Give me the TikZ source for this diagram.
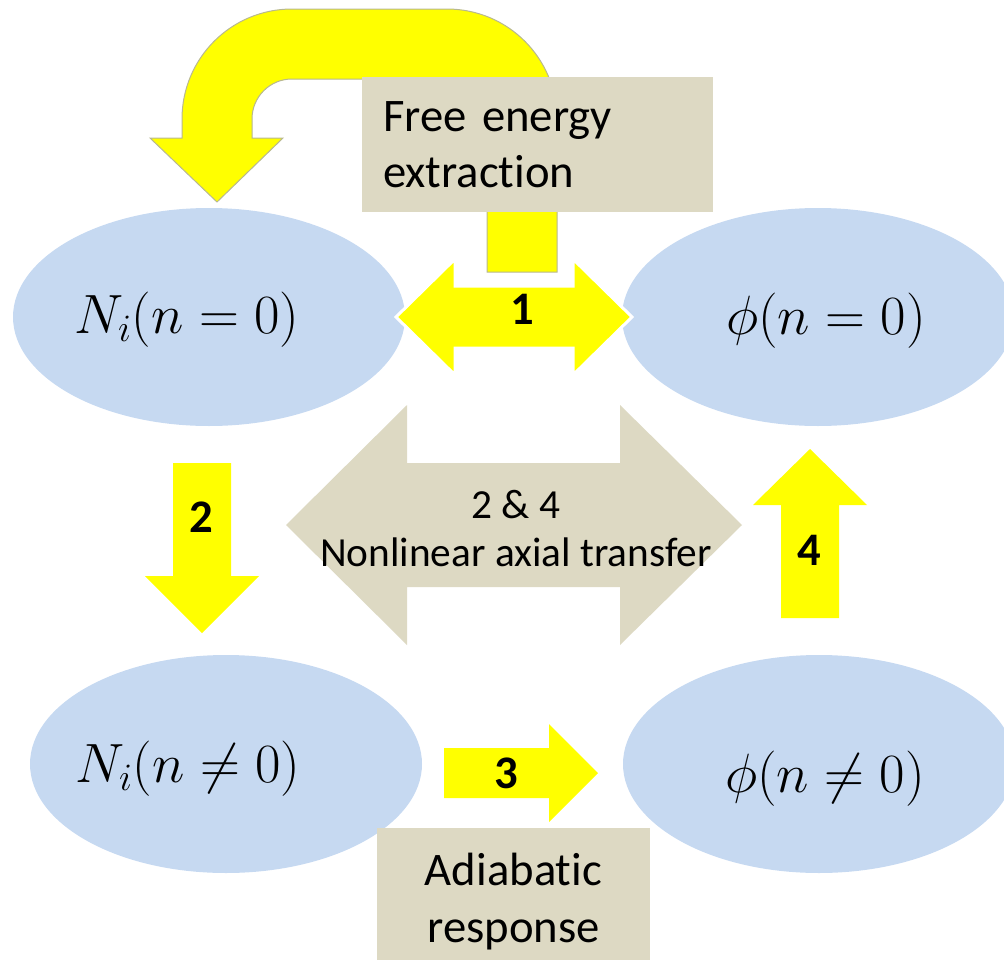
\RequirePackage{fix-cm}
\documentclass[tikz,border=0pt]{standalone}
\usepackage{fontspec}
\newfontfamily\calfont[Ligatures=NoCommon]{Carlito}
\usetikzlibrary{shapes.geometric}
\definecolor{ellblue}{HTML}{C6D9F1}
\definecolor{tanfill}{HTML}{DDD9C3}
\definecolor{arrowyellow}{HTML}{FFFF00}
\definecolor{uturnedge}{HTML}{B8B890}
\begin{document}
\begin{tikzpicture}[x=0.75pt,y=-0.75pt,
  ellnode/.style={ellipse, fill=ellblue, draw=none, inner sep=0pt, minimum width=294pt, minimum height=163.5pt},
  mathlbl/.style={inner sep=0pt, anchor=base, font=\fontsize{41.5}{50}\selectfont},
  tanbox/.style={rectangle, fill=tanfill, draw=none, inner sep=0pt},
  ylw/.style={fill=arrowyellow, draw=none},
  numlbl/.style={inner sep=0pt, anchor=base, font=\calfont\bfseries\fontsize{35}{42}\selectfont},
  boxtext/.style={inner sep=0pt, font=\calfont\fontsize{35}{43}\selectfont}]

\useasboundingbox (0,0) rectangle (1004,960);

% ellipses
\node[ellnode] (e1) at (209,317) {};
\node[ellnode] (e2) at (818,317) {};
\node[ellnode] (e3) at (226,764) {};
\node[ellnode] (e4) at (819,764) {};

\node[mathlbl] (t1) at (187,333) {$N_i(n=0)$};
\node[mathlbl] (t2) at (826,334) {$\phi(n=0)$};
\node[mathlbl] (t3) at (188,782) {$N_i(n\neq 0)$};
\node[mathlbl] (t4) at (825,792) {$\phi(n\neq 0)$};

% big tan double arrow
\path[fill=tanfill] (286,525) -- (407,405) -- (407,463) -- (620,463) -- (620,405) -- (742,525)
  -- (620,645) -- (620,587) -- (407,587) -- (407,645) -- cycle;
\node[inner sep=0pt, align=center, font=\calfont\fontsize{31}{36}\selectfont] (mid) at (516,528.5)
  {2 \& 4\\Nonlinear axial transfer};

% arrow 2 (down)
\path[ylw] (173,463) -- (231,463) -- (231,576) -- (259,576) -- (202,633) -- (145,576) -- (173,576) -- cycle;
% arrow 3 (right)
\path[ylw] (444,748) -- (549,748) -- (549,724) -- (598,773) -- (549,822) -- (549,798) -- (444,798) -- cycle;
% arrow 4 (up)
\path[ylw] (781,618) -- (781,505) -- (753,505) -- (810,449) -- (867,505) -- (839,505) -- (839,618) -- cycle;
% arrow 1 (double)
\path[ylw, draw=white, line width=2.25pt, line join=miter] (396,317) -- (455,259) -- (455,286) -- (573,286)
  -- (573,259) -- (632,317) -- (573,375) -- (573,348) -- (455,348) -- (455,375) -- cycle;

% U-turn arrow
\path[fill=arrowyellow, draw=uturnedge, line width=0.75pt]
  (557,272) -- (557,119) .. controls (557,58.2) and (507.8,9) .. (447,9)
  -- (292,9) .. controls (231.2,9) and (182,58.2) .. (182,119)
  -- (182,138) -- (150,138) -- (217,202) -- (283,138) -- (252,138)
  -- (252,119) .. controls (252,96.9) and (269.9,79) .. (292,79)
  -- (447,79) .. controls (469.1,79) and (487,96.9) .. (487,119)
  -- (487,272) -- cycle;

% free energy box
\node[tanbox, minimum width=263.25pt, minimum height=101.25pt, text width=231.75pt, align=left,
  font=\calfont\fontsize{35}{42}\selectfont] (fe) at (537.5,144.5) {Free energy\\extraction};

% adiabatic box
\node[tanbox, minimum width=204.75pt, minimum height=99pt, anchor=north west] (ab) at (377,828) {};
\node[boxtext, align=center] (abt) at (513.5,901.5) {Adiabatic\\response};

% numbers
\node[numlbl] (n1) at (522,324) {1};
\node[numlbl] (n2) at (201,532) {2};
\node[numlbl] (n3) at (506,788) {3};
\node[numlbl] (n4) at (809,565) {4};
\end{tikzpicture}
\end{document}
